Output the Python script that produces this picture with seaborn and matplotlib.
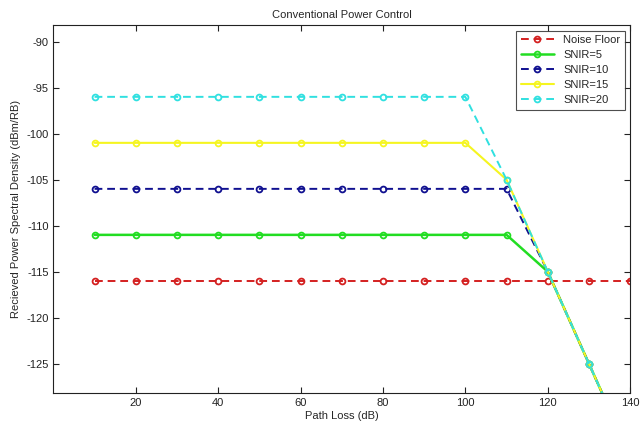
import pandas as pd
import seaborn as sns
import matplotlib.pyplot as plt

path_loss = [10, 20, 30, 40, 50, 60, 70, 80, 90, 100, 110, 120, 130, 140]
noise_floor = [-116] * 14
snir_5 = [-111, -111, -111, -111, -111, -111, -111, -111, -111, -111, -111, -115, -125, -135]
snir_10 = [-106, -106, -106, -106, -106, -106, -106, -106, -106, -106, -106, -115, -125, -135]
snir_15 = [-101, -101, -101, -101, -101, -101, -101, -101, -101, -101, -105, -115, -125, -135]
snir_20 = [-96, -96, -96, -96, -96, -96, -96, -96, -96, -96, -105, -115, -125, -135]

series = [
    ('Noise Floor', noise_floor, '#d42020', '--', 1.4),
    ('SNIR=5', snir_5, '#22dd22', '-', 1.8),
    ('SNIR=10', snir_10, '#101090', '--', 1.4),
    ('SNIR=15', snir_15, '#f5f520', '-', 1.5),
    ('SNIR=20', snir_20, '#30e0e0', '--', 1.4),
]

sns.set_style('ticks')
plt.rcParams['font.family'] = ['Liberation Sans Narrow', 'Liberation Sans', 'DejaVu Sans']
plt.rcParams['axes.unicode_minus'] = False

fig = plt.figure(figsize=(6.43, 4.25), dpi=100)
ax = fig.add_axes([0.083, 0.075, 0.897, 0.866])

for name, vals, color, ls, lw in series:
    df = pd.DataFrame({'x': path_loss, 'y': vals})
    line = sns.lineplot(data=df, x='x', y='y', ax=ax, color=color, linestyle=ls,
                        linewidth=lw, marker='o', markersize=4.2, markerfacecolor='none',
                        markeredgecolor=color, markeredgewidth=1.3, label=name).lines[-1]
    if ls == '--':
        line.set_dashes((4, 2.5))

ax.set_xlim(0, 140)
ax.set_ylim(-128.2, -88.2)
ax.set_xticks([20, 40, 60, 80, 100, 120, 140])
ax.set_yticks([-125, -120, -115, -110, -105, -100, -95, -90])
ax.tick_params(direction='in', top=True, right=True, labelsize=8, length=4, width=0.8,
               colors='#222222')
for s in ax.spines.values():
    s.set_linewidth(0.8)
    s.set_color('#222222')
ax.set_xlabel('Path Loss (dB)', fontsize=8, labelpad=2)
ax.set_ylabel('Recieved Power Spectral Density (dBm/RB)', fontsize=8, labelpad=4)
ax.set_title('Conventional Power Control', fontsize=8, pad=5)

leg = ax.legend(loc='upper right', fontsize=8, frameon=True, fancybox=False,
                borderaxespad=0.5, handlelength=3, labelspacing=0.45, borderpad=0.4)
leg.get_frame().set_edgecolor('#222222')
leg.get_frame().set_linewidth(0.8)
for h in leg.get_lines():
    if h.get_linestyle() == '--':
        h.set_dashes((4, 2.5))

fig.savefig('out.png', dpi=100)
